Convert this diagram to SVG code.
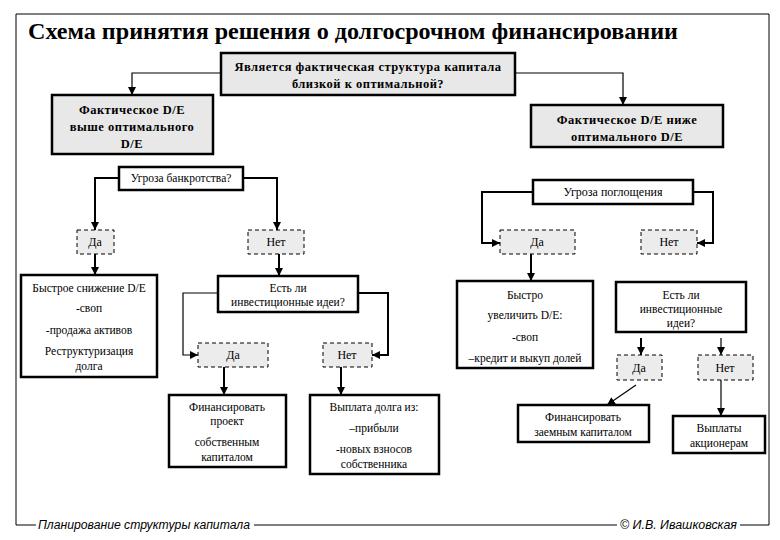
<svg xmlns="http://www.w3.org/2000/svg" width="780" height="540" viewBox="0 0 780 540">
<defs>
<marker id="arr" viewBox="0 0 10 10" refX="10" refY="5" markerWidth="8" markerHeight="8" markerUnits="userSpaceOnUse" orient="auto"><path d="M0,0 L10,5 L0,10 z" fill="#000"/></marker>
</defs>
<style>
.t{fill:#000;text-anchor:middle}
.b{font-weight:bold;font-size:12.5px;letter-spacing:0.5px}
.n{font-size:11.5px}
.m{font-size:12px}
.main{fill:#e8e8e8;stroke:#000;stroke-width:2.5}
.box{fill:#fff;stroke:#000;stroke-width:2.5}
.dash{fill:#ececec;stroke:#000;stroke-width:1;stroke-dasharray:4,3}
.c{fill:none;stroke:#000;stroke-width:2}
.c1{fill:none;stroke:#000;stroke-width:1.2}
.foot{font-style:italic;font-size:12px;fill:#000}
</style>
<rect width="780" height="540" fill="#fff"/>
<g id="frame" fill="none" stroke="#000" stroke-width="1">
<path d="M36,525 L16,525 L16,14 L769,14 L769,525 L740,525"/>
<path d="M254,525 L617,525"/>
</g>
<g font-family="Liberation Sans, Arial, sans-serif">
<text class="foot" x="38" y="529" textLength="212" lengthAdjust="spacingAndGlyphs">Планирование структуры капитала</text>
<text class="foot" x="620" y="529" textLength="117" lengthAdjust="spacingAndGlyphs">© И.В. Ивашковская</text>
</g>
<g id="connectors">
<path class="c1" d="M221,73 L132,73 L132,95" marker-end="url(#arr)"/>
<path class="c1" d="M515,73 L623,73 L623,105" marker-end="url(#arr)"/>
<path class="c" d="M119,178 L95,178 L95,230" marker-end="url(#arr)"/>
<path class="c" d="M243,178 L277,178 L277,230" marker-end="url(#arr)"/>
<path class="c" d="M533,192 L482,192 L482,243 L500,243" marker-end="url(#arr)"/>
<path class="c" d="M693,192 L713,192 L713,243 L697,243" marker-end="url(#arr)"/>
<path class="c" d="M95,254 L95,275" marker-end="url(#arr)"/>
<path class="c" d="M279,254 L279,276" marker-end="url(#arr)"/>
<path class="c" d="M531,254 L531,281" marker-end="url(#arr)"/>
<path class="c1" d="M218,293 L183,293 L183,355 L198,355" marker-end="url(#arr)"/>
<path class="c" d="M358,293 L388,293 L388,355 L372,355" marker-end="url(#arr)"/>
<path class="c" d="M224,367 L224,395" marker-end="url(#arr)"/>
<path class="c" d="M341,367 L341,395" marker-end="url(#arr)"/>
<path class="c" d="M641,338 L641,355" marker-end="url(#arr)"/>
<path class="c1" d="M721,338 L721,355" marker-end="url(#arr)"/>
<path class="c1" d="M636,385 L607,405" marker-end="url(#arr)"/>
<path class="c1" d="M721,380 L721,416" marker-end="url(#arr)"/>
</g>
<g font-family="Liberation Serif, Times New Roman, serif">
<text x="28" y="39" font-weight="bold" font-size="23" textLength="650" lengthAdjust="spacingAndGlyphs">Схема принятия решения о долгосрочном финансировании</text>
<g id="q-top"><rect class="main" x="221" y="53" width="294" height="42"/>
<text class="t b" x="368" y="71">Является фактическая структура капитала</text>
<text class="t b" x="368" y="88">близкой к оптимальной?</text></g>
<g id="de-high"><rect class="main" x="52" y="95" width="161" height="59"/>
<text class="t b" x="132" y="114">Фактическое D/E</text>
<text class="t b" x="132" y="131">выше  оптимального</text>
<text class="t b" x="132" y="148">D/E</text></g>
<g id="de-low"><rect class="main" x="531" y="105" width="192" height="42"/>
<text class="t b" x="627" y="124">Фактическое D/E ниже</text>
<text class="t b" x="627" y="141">оптимального D/E</text></g>
<g id="bankrupt"><rect class="box" x="119" y="167" width="124" height="23" stroke-width="2"/>
<text class="t n" x="181" y="182">Угроза банкротства?</text></g>
<g id="takeover"><rect class="box" x="533" y="180" width="160" height="24" stroke-width="2"/>
<text class="t m" x="613" y="196">Угроза поглощения</text></g>
<g id="yes1"><rect class="dash" x="77" y="230" width="37" height="24"/><text class="t m" x="95" y="246">Да</text></g>
<g id="no1"><rect class="dash" x="248" y="230" width="56" height="24"/><text class="t m" x="276" y="246">Нет</text></g>
<g id="yes2"><rect class="dash" x="500" y="230" width="75" height="24"/><text class="t m" x="537" y="246">Да</text></g>
<g id="no2"><rect class="dash" x="641" y="230" width="56" height="24"/><text class="t m" x="669" y="246">Нет</text></g>
<g id="reduce"><rect class="box" x="21" y="275" width="136" height="102"/>
<text class="t n" x="89" y="292">Быстрое снижение D/E</text>
<text class="t n" x="89" y="312">-своп</text>
<text class="t n" x="89" y="334">-продажа активов</text>
<text class="t n" x="89" y="355">Реструктуризация</text>
<text class="t n" x="89" y="370">долга</text></g>
<g id="ideas1"><rect class="box" x="218" y="276" width="140" height="36"/>
<text class="t n" x="288" y="292">Есть ли</text>
<text class="t n" x="288" y="306">инвестиционные идеи?</text></g>
<g id="yes3"><rect class="dash" x="198" y="343" width="70" height="24"/><text class="t m" x="233" y="359">Да</text></g>
<g id="no3"><rect class="dash" x="323" y="343" width="49" height="24"/><text class="t m" x="347" y="359">Нет</text></g>
<g id="fin-own"><rect class="box" x="169" y="395" width="117" height="72"/>
<text class="t n" x="227" y="411">Финансировать</text>
<text class="t n" x="227" y="425">проект</text>
<text class="t n" x="227" y="446">собственным</text>
<text class="t n" x="227" y="461">капиталом</text></g>
<g id="repay"><rect class="box" x="310" y="395" width="129" height="79"/>
<text class="t n" x="374" y="411">Выплата долга из:</text>
<text class="t n" x="374" y="432">–прибыли</text>
<text class="t n" x="374" y="453">-новых взносов</text>
<text class="t n" x="374" y="468">собственника</text></g>
<g id="increase"><rect class="box" x="457" y="281" width="136" height="87"/>
<text class="t n" x="525" y="299">Быстро</text>
<text class="t n" x="525" y="319">увеличить D/E:</text>
<text class="t n" x="525" y="341">-своп</text>
<text class="t n" x="525" y="362">–кредит и выкуп долей</text></g>
<g id="ideas2"><rect class="box" x="616" y="282" width="130" height="50"/>
<text class="t n" x="681" y="299">Есть ли</text>
<text class="t n" x="681" y="313">инвестиционные</text>
<text class="t n" x="681" y="327">идеи?</text></g>
<g id="yes4"><rect class="dash" x="617" y="355" width="45" height="25"/><text class="t m" x="639" y="372">Да</text></g>
<g id="no4"><rect class="dash" x="698" y="355" width="55" height="25"/><text class="t m" x="725" y="372">Нет</text></g>
<g id="fin-debt"><rect class="box" x="518" y="405" width="131" height="37"/>
<text class="t n" x="583" y="421">Финансировать</text>
<text class="t n" x="583" y="436">заемным капиталом</text></g>
<g id="dividends"><rect class="box" x="673" y="416" width="92" height="37"/>
<text class="t n" x="719" y="432">Выплаты</text>
<text class="t n" x="719" y="447">акционерам</text></g>
</g>
</svg>
